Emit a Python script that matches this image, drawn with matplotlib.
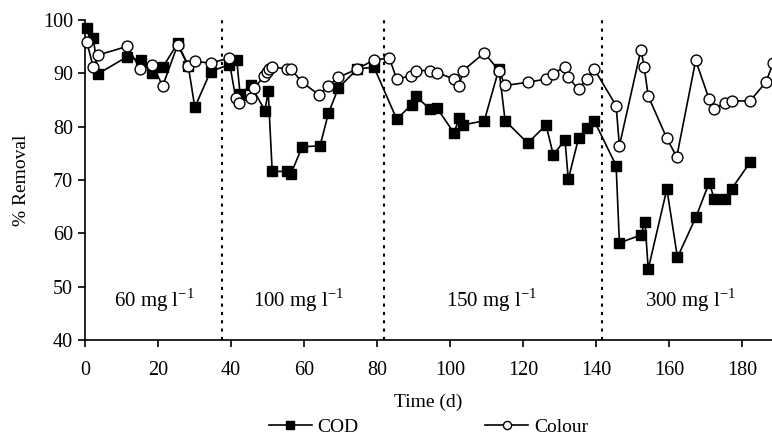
import numpy as np
import matplotlib.pyplot as plt

plt.rcParams['font.family'] = ['Liberation Serif', 'DejaVu Serif']

# COD removal (%)
cod_t = [0.5, 2.3, 3.6, 11.4, 15.3, 18.5, 21.3, 25.4, 28.3, 30.1, 34.4,
         39.5, 41.6, 42.5, 45.5, 49.3, 50.2, 51.3, 55.3, 56.4, 59.5, 64.4, 66.7, 69.4, 74.6, 79.2,
         85.4, 89.5, 90.6, 94.5, 96.5, 101.1, 102.5, 103.6, 109.4, 113.4, 115.1, 121.3, 126.3,
         128.3, 131.5, 132.4, 135.2, 137.4, 139.5,
         145.5, 146.4, 152.3, 153.4, 154.3, 159.4, 162.3, 167.4, 171.0, 172.4, 175.2, 177.2, 182.2]
cod = [98.4, 96.6, 89.9, 93.0, 92.4, 90.0, 91.1, 95.6, 91.4, 83.6, 90.3,
       91.6, 92.4, 86.1, 87.7, 83.0, 86.6, 71.6, 71.6, 71.1, 76.2, 76.4, 82.5, 87.2, 90.8, 91.1,
       81.4, 84.1, 85.7, 83.3, 83.4, 78.8, 81.6, 80.3, 81.1, 90.8, 81.1, 76.9, 80.3,
       74.7, 77.5, 70.1, 77.8, 79.7, 81.1,
       72.7, 58.2, 59.7, 62.2, 53.3, 68.3, 55.5, 63.1, 69.5, 66.4, 66.4, 68.4, 73.3]

# Colour removal (%)
col_t = [0.5, 2.3, 3.6, 11.5, 15.2, 18.5, 21.3, 25.4, 28.3, 30.1, 34.4,
         39.4, 41.3, 42.2, 45.5, 46.4, 49.1, 49.8, 50.4, 51.3, 55.3, 56.4, 59.5, 64.2, 66.7, 69.4, 74.6, 79.2,
         83.4, 85.4, 89.3, 90.6, 94.5, 96.5, 101.1, 102.5, 103.6, 109.4, 113.4, 115.1, 121.3, 126.3,
         128.3, 131.5, 132.4, 135.2, 137.4, 139.5,
         145.5, 146.4, 152.3, 153.2, 154.3, 159.4, 162.1, 167.3, 171.0, 172.3, 175.2, 177.2, 182.2, 186.5, 188.6]
colour = [95.9, 91.1, 93.4, 95.0, 90.8, 91.6, 87.6, 95.3, 91.4, 92.2, 91.9,
          92.8, 85.3, 84.5, 85.3, 87.2, 89.5, 90.3, 90.8, 91.2, 90.8, 90.8, 88.3, 85.9, 87.6, 89.2, 90.8, 92.5,
          92.8, 88.9, 89.5, 90.5, 90.5, 90.1, 88.9, 87.6, 90.5, 93.8, 90.5, 87.7, 88.3, 88.9,
          89.9, 91.2, 89.2, 87.0, 88.9, 90.8,
          83.9, 76.4, 94.4, 91.1, 85.7, 77.8, 74.3, 92.4, 85.1, 83.2, 84.5, 84.8, 84.8, 88.3, 92.0]

# phase boundaries and dye loading labels
phase_breaks = [37.5, 81.8, 141.5]
phase_x = [19.0, 58.5, 111.5, 166.0]
phase_lbl = ["60 mg l$^{\\mathregular{-1}}$", "100 mg l$^{\\mathregular{-1}}$",
             "150 mg l$^{\\mathregular{-1}}$", "300 mg l$^{\\mathregular{-1}}$"]

fig = plt.figure(figsize=(7.72, 4.40), dpi=100)
ax = fig.add_axes([0.110, 0.227, 0.890, 0.728])

ax.plot(cod_t, cod, '-', color='black', lw=1.2, marker='s', ms=7.8,
        mfc='black', mec='black', label='COD', clip_on=False, zorder=3)
ax.plot(col_t, colour, '-', color='black', lw=1.2, marker='o', ms=7.8,
        mfc='white', mec='black', mew=1.0, label='Colour', clip_on=False, zorder=4)

for b in phase_breaks:
    ax.axvline(b, color='black', lw=1.5, ls=(0, (1.5, 2.5)), zorder=1)

for xx, t in zip(phase_x, phase_lbl):
    ax.text(xx, 47.5, t, ha='center', va='center', fontsize=15)

ax.set_xlim(0, 188.2)
ax.set_ylim(40, 100)
ax.set_xticks(np.arange(0, 181, 20))
ax.set_yticks(np.arange(40, 101, 10))
ax.tick_params(labelsize=14.5, direction='out', length=5, width=1.2)
ax.tick_params(axis='x', pad=10)
ax.spines['top'].set_visible(False)
ax.spines['right'].set_visible(False)
ax.spines['left'].set_linewidth(1.2)
ax.spines['bottom'].set_linewidth(1.2)
ax.set_xlabel("Time (d)", fontsize=14, labelpad=10)
ax.set_ylabel("% Removal", fontsize=14, labelpad=9)

fig.legend(loc='lower center', bbox_to_anchor=(0.555, -0.03), ncol=2, frameon=False,
           fontsize=14, markerscale=0.75, handlelength=2.2, handletextpad=0.3,
           columnspacing=6.5)

fig.savefig('out.png', dpi=100)
